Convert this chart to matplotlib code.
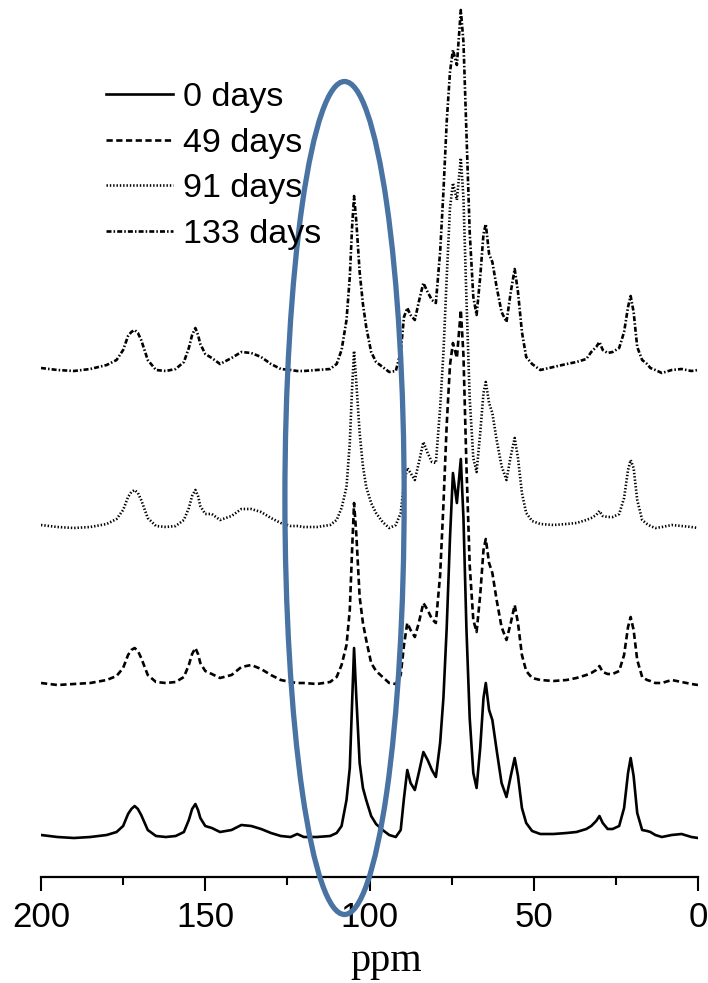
import matplotlib
matplotlib.use("Agg")
import matplotlib.pyplot as plt
from matplotlib.patches import Ellipse

plt.rcParams['lines.scale_dashes'] = False

# chemical shift positions (ppm), shared by all traces
ppm = [200, 195, 190, 185, 180, 177, 175, 173.5, 172.5, 171.5, 170.5, 169.5, 167.5, 165, 162, 159,
       156.5, 155, 154, 153, 152.2, 151.5, 150, 148, 145.5, 142, 139, 136, 133, 130, 127, 124, 122,
       120, 116, 112, 110, 108.5, 107, 106, 105.3, 104.7, 104, 103, 102, 101, 99.5, 98,
       96, 94, 92, 90.5, 89.5, 88.5, 87.5, 86.2, 85, 83.6, 82.3, 81, 79.8, 78.5, 77.5,
       76.5, 75.5, 74.6, 73.4, 72.2, 71.4, 70.5, 69.5, 68.4, 67.4, 66.3, 65.3, 64.6,
       63.6, 62.6, 61.3, 59.8, 58.3, 57, 55.8, 54.8, 53.6, 52.3, 50.5, 48, 44, 40, 37,
       34, 32.5, 31, 30, 29, 27.5, 26, 24, 22.5, 21.3, 20.5, 19.6, 18.5, 17, 15.5, 14.5,
       13, 11, 8, 5, 2, 0]

# intensities (arbitrary units) for each sample
d0 = [3, 1, 0, 1, 3, 6, 12, 24, 29, 32, 29, 23, 8, 2, 1, 2,
      6, 18, 29, 34, 28, 20, 12, 10, 6, 8, 13, 12, 9, 5, 2, 1, 4,
      1, 1, 2, 5, 12, 38, 70, 135, 190, 140, 75, 50, 38, 22, 14,
      8, 3, 1, 8, 40, 68, 55, 48, 65, 86, 78, 68, 61, 95, 140,
      210, 300, 365, 335, 379, 320, 210, 120, 65, 50, 90, 140, 155,
      128, 118, 88, 55, 41, 62, 80, 62, 30, 15, 7, 4, 4, 5, 6,
      9, 12, 17, 22, 15, 9, 9, 12, 30, 65, 80, 62, 25, 8, 7, 6,
      3, 1, 3, 4, 1, 0]
d49 = [2, 0, 1, 2, 5, 9, 17, 30, 35, 37, 34, 27, 10, 3, 2, 3,
       8, 20, 31, 37, 31, 22, 14, 11, 7, 10, 18, 20, 16, 10, 5, 3, 2,
       2, 1, 3, 8, 20, 40, 75, 135, 182, 150, 88, 62, 45, 22, 14,
       8, 2, 1, 10, 40, 62, 55, 48, 62, 82, 75, 66, 62, 110, 180,
       260, 320, 342, 327, 375, 330, 220, 120, 65, 53, 90, 135, 146,
       122, 112, 85, 58, 45, 62, 80, 62, 30, 14, 7, 5, 4, 5, 7,
       10, 12, 15, 19, 13, 11, 11, 14, 30, 58, 68, 55, 25, 8, 5, 4,
       2, 2, 5, 3, 1, 0]
d91 = [3, 1, 0, 1, 4, 9, 18, 31, 36, 38, 35, 28, 10, 2, 1, 2,
       8, 20, 32, 38, 32, 22, 14, 14, 8, 12, 19, 19, 16, 10, 5, 2, 2,
       1, 1, 3, 8, 20, 41, 85, 140, 177, 145, 95, 62, 41, 25, 15,
       6, 0, 3, 15, 45, 60, 55, 48, 65, 86, 75, 66, 65, 120, 175,
       250, 320, 345, 328, 370, 330, 230, 130, 70, 56, 95, 135, 146,
       125, 115, 88, 62, 48, 72, 90, 70, 35, 15, 7, 4, 3, 4, 5,
       8, 10, 13, 17, 12, 11, 11, 14, 30, 58, 68, 60, 28, 8, 4, 2,
       0, 1, 3, 2, 1, 0]
d133 = [4, 2, 1, 3, 7, 12, 22, 36, 40, 42, 39, 32, 12, 2, 1, 3,
        10, 24, 37, 44, 37, 28, 18, 14, 8, 14, 20, 19, 15, 8, 3, 2, 1,
        1, 2, 3, 8, 22, 52, 95, 145, 176, 150, 100, 68, 45, 20, 10,
        5, 0, 1, 20, 55, 64, 57, 52, 70, 89, 80, 72, 69, 120, 180,
        250, 300, 322, 307, 362, 330, 240, 140, 75, 57, 95, 138, 148,
        118, 110, 85, 60, 50, 80, 103, 80, 40, 15, 8, 2, 5, 8, 10,
        13, 20, 25, 30, 22, 19, 20, 24, 40, 65, 76, 60, 25, 12, 8, 4,
        2, -1, 2, 3, 1, 2]

labels = ['0 days', '49 days', '91 days', '133 days']
series = [d0, d49, d91, d133]
offsets = [0, 153, 310, 466]
styles = ['-', (0, (4.5, 2.5)), (0, (1.0, 1.4)), (0, (3.6, 1.5, 1.1, 1.5))]

for s in series:
    assert len(s) == len(ppm)

fig = plt.figure(figsize=(7.08, 9.83), dpi=100)
ax = fig.add_axes([41/708, 106/983, 657/708, 877/983])

handles = []
for s, off, ls, lab in zip(series, offsets, styles, labels):
    h, = ax.plot(ppm, [v + off for v in s], color='black', lw=1.9, linestyle=ls, label=lab)
    handles.append(h)

# ellipse marking the C1 region
ell = Ellipse((107.6, 340), width=36.3, height=833, fill=False,
              edgecolor='#4873a2', lw=3.8, clip_on=False, zorder=5)
ax.add_patch(ell)

ax.set_xlim(200, 0)
ax.set_ylim(-39, 838)
for side in ['left', 'right', 'top']:
    ax.spines[side].set_visible(False)
ax.spines['bottom'].set_linewidth(1.6)
ax.set_yticks([])
ax.set_xticks([200, 150, 100, 50, 0])
ax.set_xticks([175, 125, 75, 25], minor=True)
ax.tick_params(axis='x', which='major', direction='out', length=10, width=1.5, pad=7)
ax.tick_params(axis='x', which='minor', direction='out', length=6, width=1.5)
for t in ax.get_xticklabels():
    t.set_fontfamily('Liberation Sans')
    t.set_fontsize(25)
ax.set_xlabel('ppm', fontfamily='Liberation Serif', fontsize=29, x=0.525, labelpad=7)

leg = ax.legend(handles=handles, loc='upper left', bbox_to_anchor=(106/708, 1 - 82/983),
                bbox_transform=fig.transFigure, frameon=False, borderpad=0, borderaxespad=0,
                handlelength=1.97, handletextpad=0.3, labelspacing=0.43,
                prop={'family': 'Liberation Sans', 'size': 24.5})

fig.savefig('out.png', dpi=100)
